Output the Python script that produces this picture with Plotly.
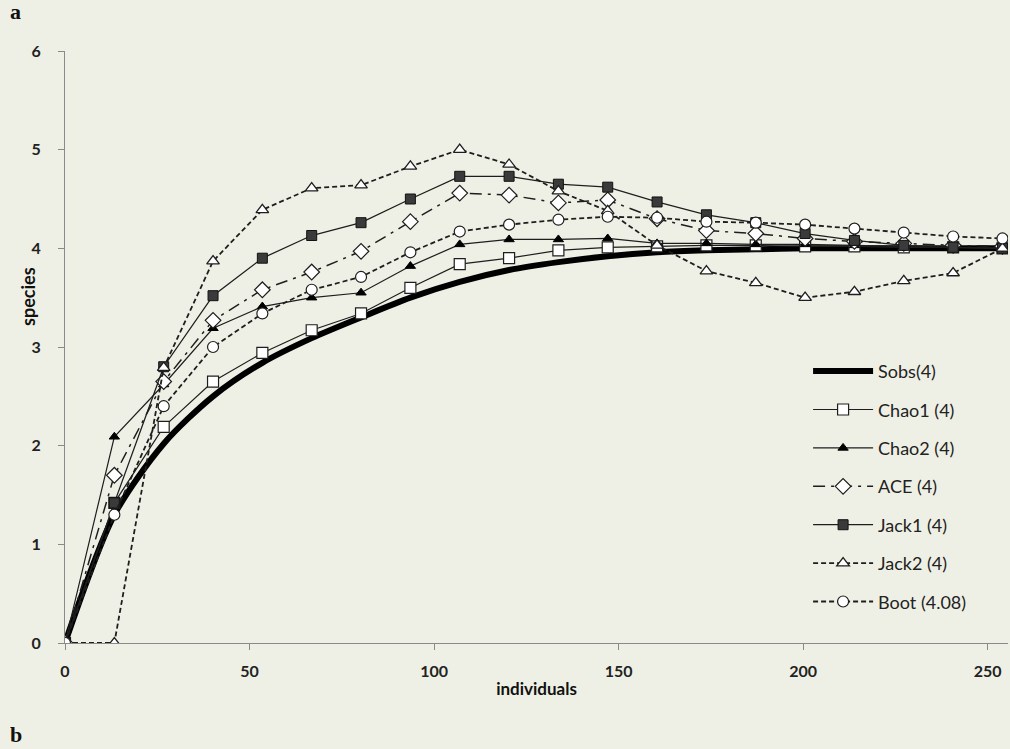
import plotly.graph_objects as go

individuals = [0, 13.37, 26.74, 40.11, 53.47, 66.84, 80.21, 93.58, 106.95, 120.32,
               133.68, 147.05, 160.42, 173.79, 187.16, 200.53, 213.89, 227.26, 240.63, 254.0]

sobs  = [0, 1.30, 2.02, 2.50, 2.84, 3.09, 3.30, 3.50, 3.66, 3.78, 3.86, 3.92, 3.96, 3.98, 3.99, 4.00, 4.00, 4.00, 4.00, 4.00]
chao1 = [0, 1.42, 2.19, 2.65, 2.94, 3.17, 3.34, 3.60, 3.84, 3.90, 3.98, 4.01, 4.02, 4.03, 4.03, 4.02, 4.02, 4.01, 4.01, 4.00]
chao2 = [0, 2.09, 2.62, 3.19, 3.41, 3.50, 3.55, 3.82, 4.04, 4.09, 4.09, 4.10, 4.05, 4.05, 4.04, 4.04, 4.03, 4.02, 4.01, 4.00]
ace   = [0, 1.70, 2.65, 3.27, 3.58, 3.76, 3.97, 4.27, 4.56, 4.54, 4.46, 4.49, 4.30, 4.18, 4.15, 4.10, 4.07, 4.05, 4.03, 4.02]
jack1 = [0, 1.42, 2.80, 3.52, 3.90, 4.13, 4.26, 4.50, 4.73, 4.73, 4.65, 4.62, 4.47, 4.34, 4.26, 4.15, 4.08, 4.03, 4.01, 4.00]
jack2 = [0, 0.00, 2.79, 3.87, 4.39, 4.61, 4.64, 4.83, 5.00, 4.85, 4.58, 4.38, 4.03, 3.77, 3.65, 3.50, 3.56, 3.67, 3.75, 4.00]
boot  = [0, 1.30, 2.40, 3.00, 3.34, 3.58, 3.71, 3.96, 4.17, 4.24, 4.29, 4.32, 4.31, 4.27, 4.26, 4.24, 4.20, 4.16, 4.12, 4.10]

names = ["Sobs(4)", "Chao1 (4)", "Chao2 (4)", "ACE (4)", "Jack1 (4)", "Jack2 (4)", "Boot (4.08)"]

ink = "#1e1e1e"
bg = "#eff0e5"

fig = go.Figure()

fig.add_trace(go.Scatter(x=individuals, y=sobs, name=names[0], mode="lines",
                         line=dict(color="#000000", width=6, shape="spline", smoothing=0.8), legendgroup="g0"))
fig.add_trace(go.Scatter(x=individuals, y=chao1, name=names[1], mode="lines+markers",
                         line=dict(color=ink, width=1.2),
                         marker=dict(symbol="square", size=11, color="white", line=dict(color=ink, width=1.2)),
                         legendgroup="g1"))
fig.add_trace(go.Scatter(x=individuals, y=chao2, name=names[2], mode="lines+markers",
                         line=dict(color=ink, width=1.2),
                         marker=dict(symbol="triangle-up", size=9, color="#000000", line=dict(color="#000000", width=1)),
                         legendgroup="g2"))
fig.add_trace(go.Scatter(x=individuals, y=ace, name=names[3], mode="lines+markers",
                         line=dict(color=ink, width=1.5, dash="12px,6px,3px,6px"),
                         marker=dict(symbol="diamond", size=12, color="white", line=dict(color=ink, width=1.2)),
                         legendgroup="g3"))
fig.add_trace(go.Scatter(x=individuals, y=jack1, name=names[4], mode="lines+markers",
                         line=dict(color=ink, width=1.3),
                         marker=dict(symbol="square", size=10, color="#3a3a3a", line=dict(color="#111111", width=1)),
                         legendgroup="g4"))
fig.add_trace(go.Scatter(x=individuals, y=jack2, name=names[5], mode="lines+markers",
                         line=dict(color=ink, width=1.8, dash="5px,3px"),
                         marker=dict(symbol="triangle-up", size=11, color="white", line=dict(color=ink, width=1.3)),
                         legendgroup="g5"))
fig.add_trace(go.Scatter(x=individuals, y=boot, name=names[6], mode="lines+markers",
                         line=dict(color=ink, width=1.8, dash="5px,3px"),
                         marker=dict(symbol="circle", size=11, color="white", line=dict(color=ink, width=1.2)),
                         legendgroup="g6"))

tickfont = dict(family="Lato", size=16, color="#222222", weight="bold")

fig.update_layout(
    width=1010, height=749,
    margin=dict(l=65, r=2, t=51, b=106),
    paper_bgcolor=bg, plot_bgcolor=bg,
    showlegend=True,
    legend=dict(x=0.788, y=0.49, xanchor="left", yanchor="top",
                bgcolor="rgba(0,0,0,0)", font=dict(family="Lato", size=18, color="#222222"),
                tracegroupgap=12, itemwidth=60),
    xaxis=dict(range=[0, 255.5], tickvals=[0, 50, 100, 150, 200, 250], showgrid=False, zeroline=False,
               showline=True, linecolor="#8a8a8a", linewidth=1, ticks="outside", ticklen=6,
               tickcolor="#8a8a8a", tickfont=tickfont, ticklabelstandoff=8,
               title=dict(text="individuals", font=dict(family="Lato", size=17, color="#111111", weight="bold"),
                          standoff=3)),
    yaxis=dict(range=[0, 6], tickvals=[0, 1, 2, 3, 4, 5, 6], showgrid=False, zeroline=False,
               showline=True, linecolor="#8a8a8a", linewidth=1, ticks="outside", ticklen=6,
               tickcolor="#8a8a8a", tickfont=tickfont, ticklabelstandoff=14),
    annotations=[
        dict(text="species", textangle=-90, xref="paper", yref="paper", x=-0.040, y=0.585,
             xanchor="center", yanchor="middle", showarrow=False,
             font=dict(family="Lato", size=18, color="#111111", weight="bold")),
        dict(text="a", xref="paper", yref="paper", x=-0.060, y=1.066, xanchor="left", yanchor="middle",
             showarrow=False, font=dict(family="Liberation Serif", size=22, color="#111111", weight="bold")),
        dict(text="b", xref="paper", yref="paper", x=-0.060, y=-0.155, xanchor="left", yanchor="middle",
             showarrow=False, font=dict(family="Liberation Serif", size=22, color="#111111", weight="bold")),
    ],
)

fig.write_html("out.html", config={"displayModeBar": False},
               post_script="document.body.style.margin='0';document.body.style.overflow='hidden';")
